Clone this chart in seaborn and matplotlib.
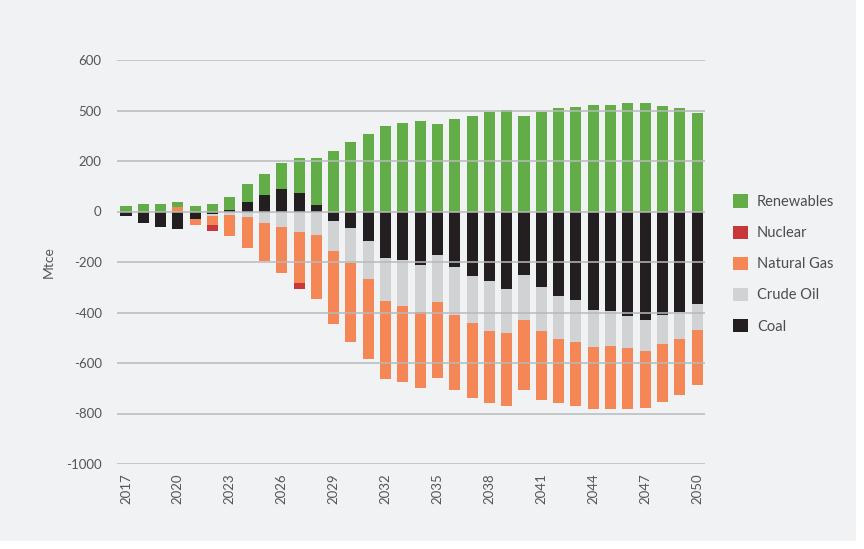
import matplotlib
matplotlib.use("Agg")
import matplotlib.pyplot as plt
import numpy as np
import seaborn as sns
from matplotlib.patches import Patch, Rectangle

years = [str(y) for y in range(2017, 2051)]

renewables = [22, 30, 30, 20, 22, 30, 52, 72, 83, 103, 138, 186, 240, 276, 305, 340, 352,
              360, 348, 368, 380, 396, 403, 379, 395, 411, 414, 422, 422, 430, 430, 418, 411, 391]
nuclear = [0, 0, 0, 0, 0, -24, 0, 0, 0, 0, -24, 0, 0, 0, 0, 0, 0,
           0, 0, 0, 0, 0, 0, 0, 0, 0, 0, 0, 0, 0, 0, 0, 0, 0]
natural_gas = [0, 0, 0, 18, -24, -36, -83, -123, -150, -182, -202, -254, -289, -310, -317, -310, -302,
               -301, -302, -297, -297, -286, -289, -277, -274, -253, -253, -245, -249, -241, -225, -229, -222, -218]
crude_oil = [0, 0, 0, 0, 0, -9, -13, -21, -45, -61, -80, -92, -119, -140, -151, -170, -182,
             -186, -186, -191, -187, -198, -174, -178, -174, -170, -166, -147, -139, -127, -123, -115, -107, -102]
coal = [-17, -45, -61, -69, -29, -8, 6, 38, 66, 90, 74, 26, -37, -65, -116, -184, -192,
        -212, -172, -219, -255, -275, -306, -251, -298, -334, -350, -389, -393, -413, -429, -409, -397, -366]

series_names = ["Coal", "Crude Oil", "Natural Gas", "Nuclear", "Renewables"]
series_colors = ["#231F20", "#D1D2D4", "#F58756", "#C8373A", "#62AD47"]

y_ticks = [600, 400, 200, 0, -200, -400, -600, -800, -1000]
y_ticklabels = ["600", "500", "200", "0", "-200", "-400", "-600", "-800", "-1000"]
x_tickpos = [0, 3, 6, 9, 12, 15, 18, 21, 24, 27, 30, 33]
x_ticklabels = ["2017", "2020", "2023", "2026", "2029", "2032", "2035", "2038",
                "2041", "2044", "2047", "2050"]

BG = "#F1F2F4"
TXT = "#555555"

sns.set_theme(style="white")
plt.rcParams["font.family"] = ["Lato", "DejaVu Sans"]

fig = plt.figure(figsize=(8.64, 5.49), dpi=100, facecolor="white")
fig.patches.append(Rectangle((0, 1 - 541 / 549), 856 / 864, 541 / 549,
                             transform=fig.transFigure, facecolor=BG, edgecolor="none", zorder=-5))
ax = fig.add_axes([117 / 864, 1 - 464 / 549, 588 / 864, 404 / 549])
ax.set_facecolor(BG)

# stacked bars: positive and negative parts stack separately,
# drawn outermost first so inner layers overlay them
vals = np.array([coal, crude_oil, natural_gas, nuclear, renewables], dtype=float)
pos_top = np.cumsum(np.clip(vals, 0, None), axis=0)
neg_top = np.cumsum(np.clip(vals, None, 0), axis=0)
for k in reversed(range(len(series_names))):
    for tops in (pos_top[k], neg_top[k]):
        sns.barplot(x=years, y=tops, color=series_colors[k], width=0.64, saturation=1,
                    linewidth=0, errorbar=None, ax=ax)

ax.set_xlim(-0.52, 33.46)
ax.set_ylim(-1000, 600)
ax.set_yticks(y_ticks)
ax.set_yticklabels(y_ticklabels)
ax.set_xticks(x_tickpos)
ax.set_xticklabels(x_ticklabels, rotation=90)
ax.tick_params(axis="y", length=0, pad=11, labelsize=9.5, labelcolor=TXT)
ax.tick_params(axis="x", length=0, pad=7, labelsize=9.5, labelcolor=TXT)
ax.set_xlabel("")
ax.set_ylabel("Mtce", fontsize=10, color=TXT, labelpad=8)

ax.set_axisbelow(False)
ax.yaxis.grid(True, color="#B8B9BB", linewidth=1.1)
ax.xaxis.grid(False)
for s in ax.spines.values():
    s.set_visible(False)

handles = [Patch(facecolor=c, edgecolor="none") for c in series_colors[::-1]]
fig.legend(handles, series_names[::-1], loc="center left", bbox_to_anchor=(733 / 864, 1 - 264 / 549),
           frameon=False, fontsize=10.5, handlelength=1.05, handleheight=1.05, handletextpad=0.6,
           labelspacing=1.12, borderaxespad=0, borderpad=0, labelcolor="#4D4D4D")

fig.savefig("out.png", dpi=100, facecolor=fig.get_facecolor())
